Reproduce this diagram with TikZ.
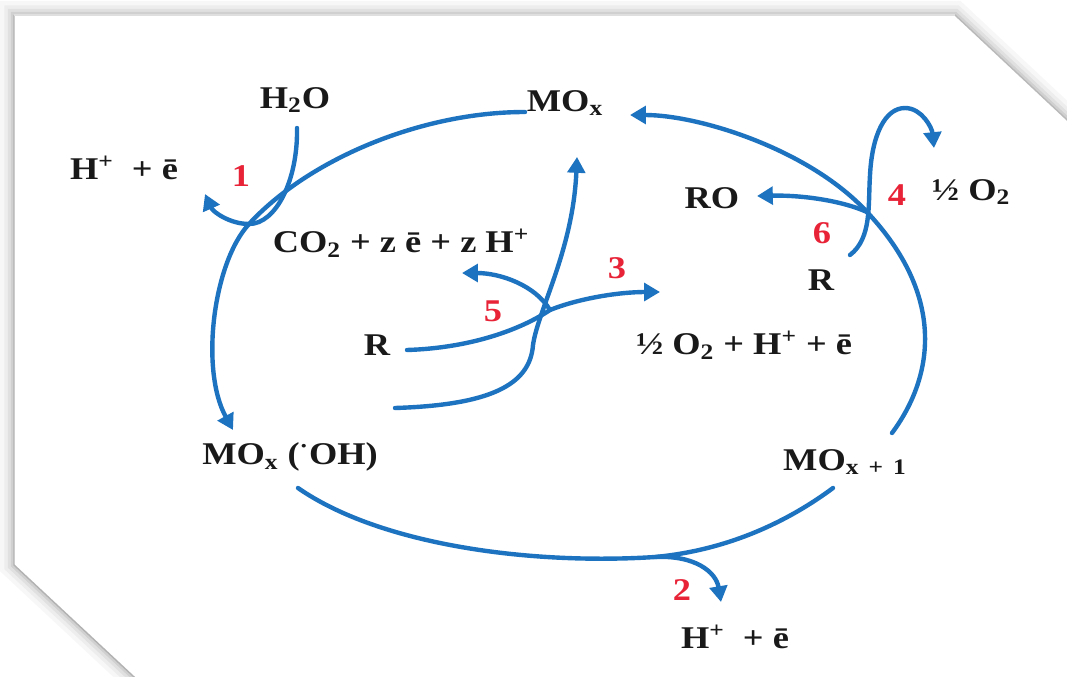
\documentclass[tikz,border=0pt]{standalone}
\usepackage{fontspec}
\setmainfont{Liberation Serif}[FakeStretch=1.15]
\usetikzlibrary{arrows.meta}
\definecolor{cyc}{RGB}{30,115,192}
\definecolor{numred}{RGB}{232,35,55}
\definecolor{txt}{RGB}{25,25,25}
\begin{document}
\begin{tikzpicture}[x=0.02cm,y=-0.02cm,
  lbl/.style={font=\fontsize{18}{20}\selectfont\bfseries, text=txt, inner sep=0pt},
  num/.style={font=\fontsize{18}{20}\selectfont\bfseries, text=numred, inner sep=0pt},
  flow/.style={draw=cyc, line width=2.5pt, line cap=round},
  arr/.style={flow, -{Triangle[length=9pt,width=10pt]}},
  shad/.style={draw=black, line join=miter}
]
\useasboundingbox (0,0) rectangle (1067,676);
\clip (0,0) rectangle (1067,676);
\fill[white] (0,0) rectangle (1067,676);
% card with soft shadow
\foreach \w/\o in {16/0.03, 11/0.04, 7/0.05, 3.5/0.07}{
  \draw[shad, line width=\w pt, opacity=\o]
    (14,15) -- (955,15) -- (1080,132) -- (1080,690) -- (148,690) -- (14,565) -- cycle;
}
\fill[white] (14,15) -- (955,15) -- (1080,132) -- (1080,690) -- (148,690) -- (14,565) -- cycle;
\draw[gray!60, line width=0.8pt] (14,15) -- (14,565) -- (148,690);
\draw[gray!55, line width=0.8pt] (955,15) -- (1080,132);
\draw[gray!25, line width=0.6pt] (14,15) -- (955,15);

% labels
\node[lbl] (h2o) at (295,100) {H\textsubscript{2}O};
\node[lbl] (mox) at (565,103) {MO\textsubscript{x}};
\node[lbl] (he1) at (124,168) {H\textsuperscript{+}\ \ + ē};
\node[num] (n1) at (241,176) {1};
\node[lbl] (co2) at (401,243) {CO\textsubscript{2} + z ē + z H\textsuperscript{+}};
\node[lbl] (ro) at (712,198) {RO};
\node[num] (n6) at (822,233) {6};
\node[num] (n4) at (897,195) {4};
\node[lbl] (ho2) at (971,192) {½ O\textsubscript{2}};
\node[lbl] (r2) at (821,280) {R};
\node[num] (n3) at (617,268) {3};
\node[num] (n5) at (493,311) {5};
\node[lbl] (r1) at (377,345) {R};
\node[lbl] (o2he) at (744,345) {½ O\textsubscript{2} +\ H\textsuperscript{+}\ + ē};
\node[lbl] (moxoh) at (290,457) {MO\textsubscript{x} (\textsuperscript{·}OH)};
\node[lbl] (moxp) at (845,462) {MO\textsubscript{x\,\ +\ \,1}};
\node[num] (n2) at (682,590) {2};
\node[lbl] (he2) at (735,637) {H\textsuperscript{+}\ \ + ē};

% coordinates
\coordinate (a1) at (525,112);
\coordinate (j1) at (249,224);
\coordinate (a2) at (233,430);
\coordinate (b1) at (298,488);
\coordinate (j2) at (655,557);
\coordinate (b2) at (833,488);
\coordinate (c1) at (892,433);
\coordinate (j6) at (867,212);
\coordinate (c2) at (630,115);
\coordinate (w1) at (297,128);
\coordinate (t1) at (205,194);
\coordinate (t2) at (721,602);
\coordinate (rs) at (407,350);
\coordinate (jc) at (550,310);
\coordinate (t3) at (660,292);
\coordinate (ls) at (395,408);
\coordinate (lm) at (533,345);
\coordinate (tu) at (577,157);
\coordinate (t5) at (462,273);
\coordinate (t6) at (757,196);
\coordinate (rr) at (850,255);
\coordinate (k1) at (870,175);
\coordinate (k2) at (905,108);
\coordinate (t4) at (934,148);

% main cycle
\draw[arr] (a1) .. controls (420,112) and (308,160) .. (j1) .. controls (213,263) and (200,370) .. (a2);
\draw[flow] (b1) .. controls (380,545) and (530,565) .. (j2) .. controls (730,550) and (790,520) .. (b2);
\draw[arr] (j2) .. controls (695,555) and (716,572) .. (t2);
\draw[arr] (c1) .. controls (935,375) and (945,295) .. (j6) .. controls (810,150) and (700,115) .. (c2);
% step 1
\draw[arr] (w1) .. controls (298,180) and (276,224) .. (j1) .. controls (230,224) and (213,212) .. (t1);
% centre
\draw[arr] (rs) .. controls (470,348) and (520,330) .. (jc) .. controls (580,298) and (620,292) .. (t3);
\draw[arr] (ls) .. controls (490,405) and (530,385) .. (lm) .. controls (538,310) and (573,250) .. (tu);
\draw[arr] (jc) .. controls (535,285) and (500,273) .. (t5);
% right
\draw[arr] (j6) .. controls (840,200) and (800,195) .. (t6);
\draw[arr] (rr) .. controls (872,238) and (868,205) .. (k1) .. controls (872,135) and (885,108) .. (k2) .. controls (922,108) and (932,128) .. (t4);
\end{tikzpicture}
\end{document}
